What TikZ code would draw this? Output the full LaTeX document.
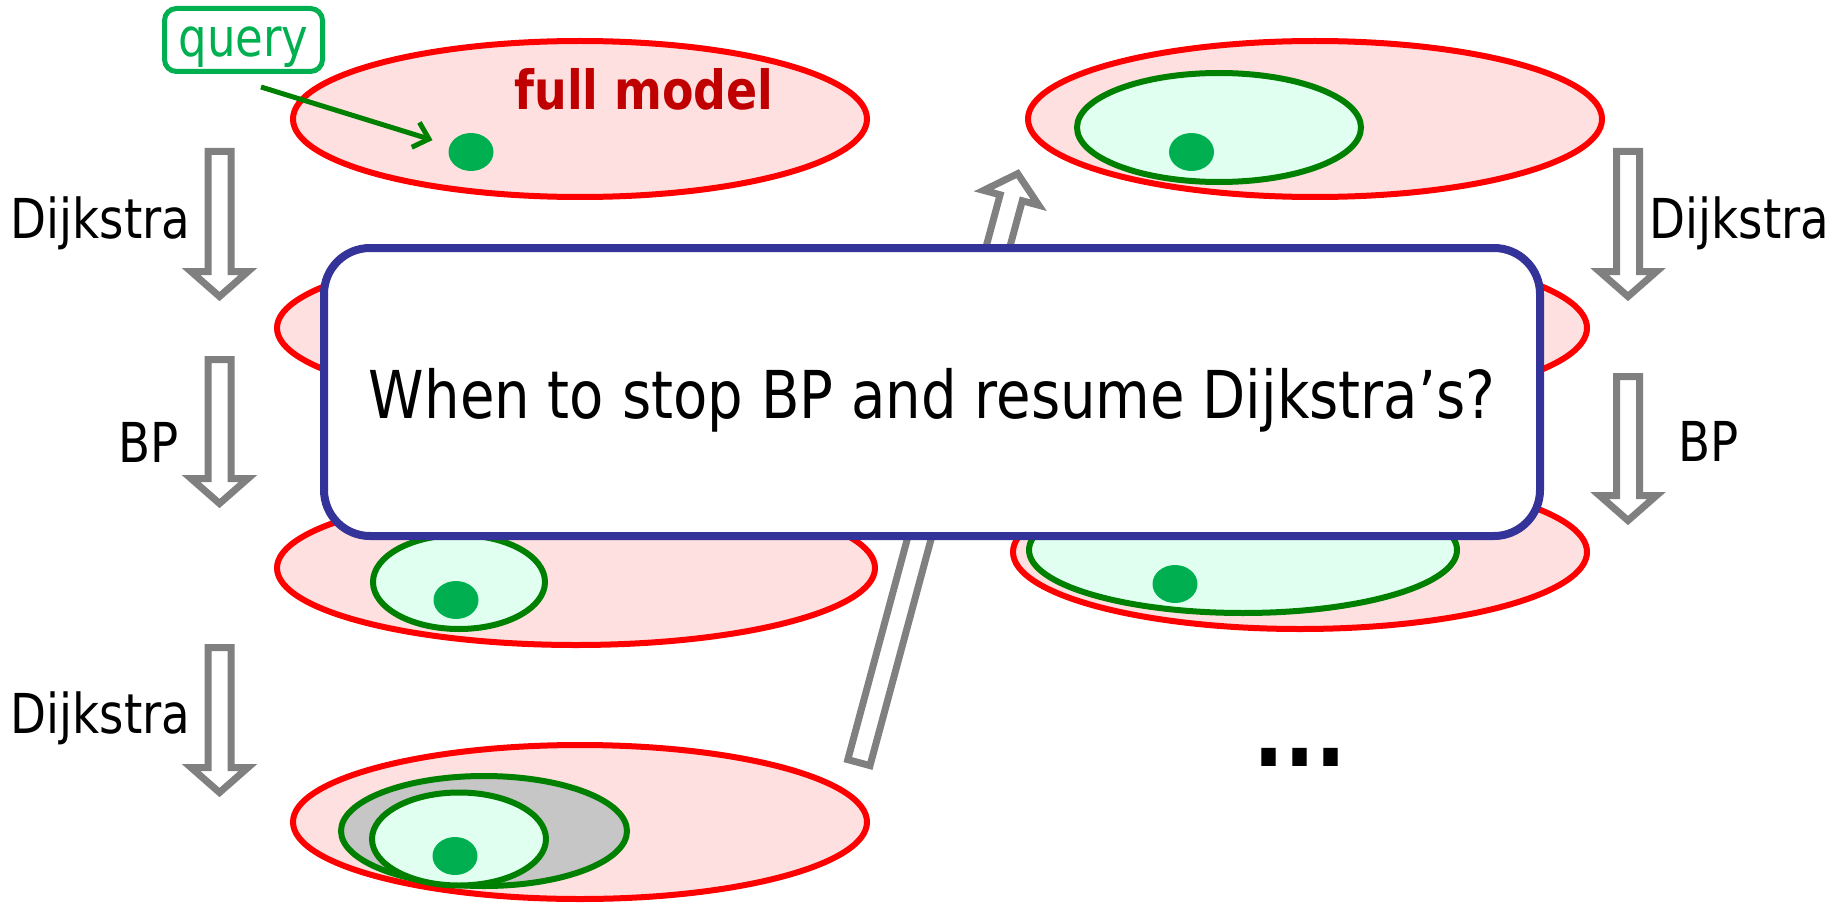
\documentclass[tikz,border=0pt]{standalone}
\usepackage{fontspec}
\setmainfont{DejaVu Sans}[FakeStretch=0.85]
\usetikzlibrary{shapes.geometric,arrows.meta}

\definecolor{modelred}{HTML}{FF0000}
\definecolor{modelfill}{HTML}{FFE0E0}
\definecolor{regiongreen}{HTML}{008000}
\definecolor{regionfill}{HTML}{E0FFF0}
\definecolor{exploredgray}{HTML}{C6C6C6}
\definecolor{dotgreen}{HTML}{00B050}
\definecolor{arrowgray}{HTML}{808080}
\definecolor{boxblue}{HTML}{333399}
\definecolor{modeltext}{HTML}{C00000}

\tikzset{
  model/.style={ellipse, draw=modelred, fill=modelfill, line width=6pt, inner sep=0pt},
  region/.style={ellipse, draw=regiongreen, fill=regionfill, line width=6pt, inner sep=0pt},
  explored/.style={region, fill=exploredgray},
  querydot/.style={ellipse, fill=dotgreen, inner sep=0pt, minimum width=45pt, minimum height=38pt},
  arrowline/.style={draw=arrowgray, fill=white, line width=7pt, line join=miter},
  steplabel/.style={font=\fontsize{55}{60}\selectfont, anchor=base, inner sep=0pt},
  pics/hollowarrow/.style={code={
    \path[arrowline] (0,11.5) -- (#1-25,11.5) -- (#1-25,28.5) -- (#1,0)
      -- (#1-25,-28.5) -- (#1-25,-11.5) -- (0,-11.5) -- cycle;}},
}

\begin{document}
\begin{tikzpicture}[x=1pt, y=-1pt]
\useasboundingbox (0,0) rectangle (1833,904);

% left column of model states
\node[model, minimum width=574pt, minimum height=156pt] (L1) at (580,119) {};
\node[querydot] (dotL1) at (471,152) {};

\node[model, minimum width=598pt, minimum height=154pt] (L2) at (576,328) {};

\node[model, minimum width=598pt, minimum height=154pt] (L3) at (576,568) {};
\node[region, minimum width=172pt, minimum height=94pt] (gL3) at (459,582) {};
\node[querydot] (dotL3) at (456,600) {};

\node[model, minimum width=574pt, minimum height=154pt] (L4) at (580,822) {};
\node[explored, minimum width=286pt, minimum height=110pt] (xL4) at (484,831) {};
\node[region, minimum width=174pt, minimum height=93pt] (gL4) at (459,839) {};
\node[querydot] (dotL4) at (455,856) {};

% right column of model states
\node[model, minimum width=574pt, minimum height=156pt] (R1) at (1315,119) {};
\node[region, minimum width=284pt, minimum height=109pt] (gR1) at (1219,127.5) {};
\node[querydot] (dotR1) at (1191.5,152) {};

\node[model, minimum width=574pt, minimum height=154pt] (R2) at (1300,328) {};

\node[model, minimum width=574pt, minimum height=154pt] (R3) at (1300,552) {};
\node[region, minimum width=428pt, minimum height=126pt] (gR3) at (1243,550) {};
\node[querydot] (dotR3) at (1175,584) {};

% jump back to the full model
\pic[rotate=74.91] at (858.9,762.6) {hollowarrow=610};

% the question
\node[draw=boxblue, line width=8pt, fill=white, rounded corners=46pt,
      minimum width=1216pt, minimum height=288pt, inner sep=0pt,
      font=\fontsize{66}{72}\selectfont, text height=62pt, text depth=10pt]
      (question) at (932,392) {When to stop BP and resume Dijkstra’s?};

% step arrows and their labels
\pic[rotate=-90] at (219.5,151.5) {hollowarrow=145};
\pic[rotate=-90] at (219.5,359.5) {hollowarrow=144};
\pic[rotate=-90] at (219.5,647.5) {hollowarrow=145};
\pic[rotate=-90] at (1628,151.5) {hollowarrow=145};
\pic[rotate=-90] at (1628,376.5) {hollowarrow=144};

\node[steplabel] (dijL1) at (100.5,238) {Dijkstra};
\node[steplabel] (bpL) at (148.5,462) {BP};
\node[steplabel] (dijL2) at (100.5,733) {Dijkstra};
\node[steplabel] (dijR) at (1739.5,238) {Dijkstra};
\node[steplabel] (bpR) at (1709,461) {BP};

% query marker
\node[draw=dotgreen, line width=5pt, rounded corners=12pt, fill=white,
      minimum width=158pt, minimum height=63pt, inner sep=0pt, text=dotgreen,
      font=\fontsize{53}{58}\selectfont, text height=46pt, text depth=12pt]
      (query) at (243.5,40) {query};
\coordinate (qtail) at (261,87);
\draw[regiongreen, line width=5pt, shorten >=18pt,
      -{Straight Barb[length=14pt, width=26pt]}] (qtail) -- (dotL1);

\node[font=\bfseries\fontsize{54}{60}\selectfont, text=modeltext, anchor=base,
      inner sep=0pt] (fullmodel) at (644,110) {full model};

\node[font=\bfseries\fontsize{96}{100}\selectfont, anchor=base, inner sep=0pt]
      (more) at (1300,766) {...};
\end{tikzpicture}
\end{document}
